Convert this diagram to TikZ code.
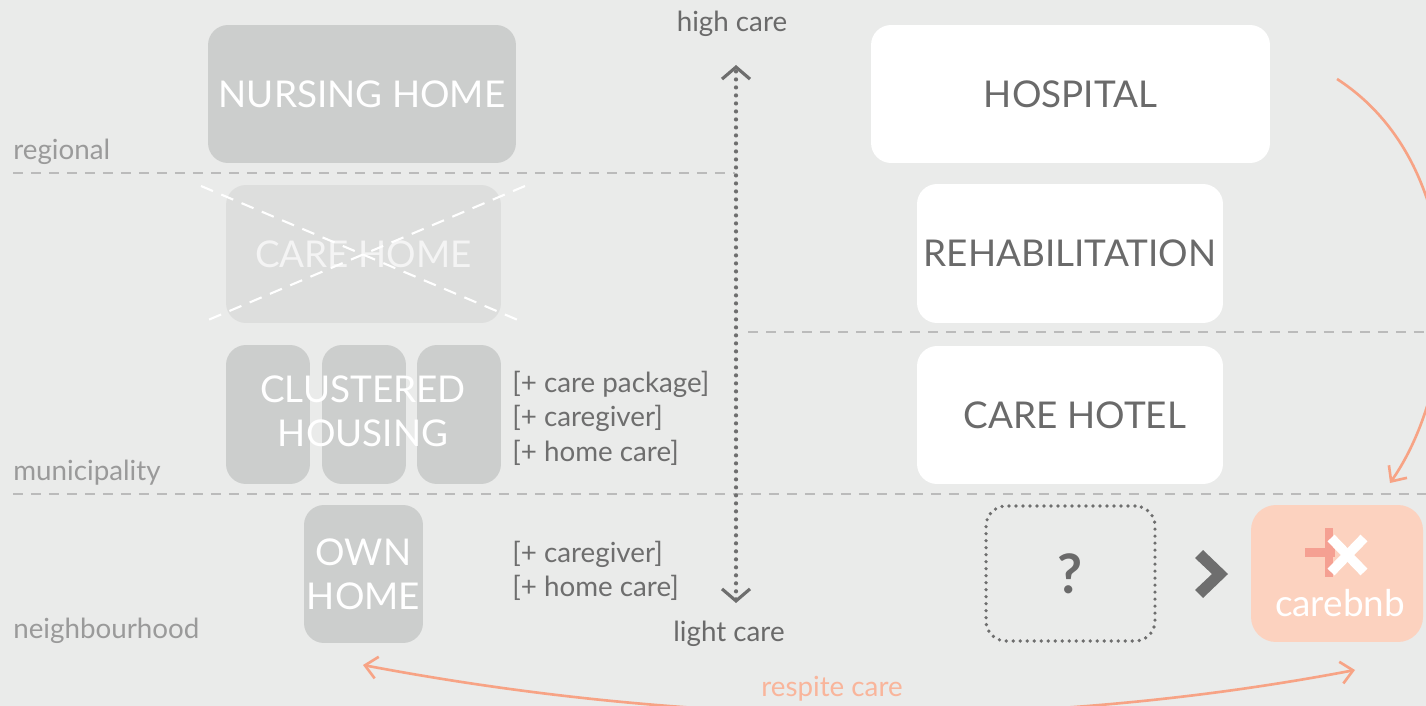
\documentclass[tikz,border=0pt]{standalone}
\usepackage{fontspec}
\setmainfont{Lato}
\usetikzlibrary{arrows.meta}
\definecolor{bg}{HTML}{EAEBEA}
\definecolor{boxgrey}{HTML}{CCCECD}
\definecolor{boxlight}{HTML}{DDDEDD}
\definecolor{crosstext}{HTML}{F4F4F4}
\definecolor{dashgrey}{HTML}{BBBBBB}
\definecolor{lvlgrey}{HTML}{9A9A9A}
\definecolor{notegrey}{HTML}{6E6E6E}
\definecolor{txtdark}{HTML}{6A6A6A}
\definecolor{salmon}{HTML}{F7A385}
\definecolor{salmonlight}{HTML}{F9B59B}
\definecolor{bnbfill}{HTML}{FCD2BF}
\definecolor{pinkplus}{HTML}{F5A092}
\newcommand\bigfont{\fontsize{21}{25}\selectfont}
\newcommand\smallfont{\fontsize{15.8}{19.6}\selectfont}
\tikzset{
  salmontip/.tip={Straight Barb[length=0.24cm,width=0.44cm,line width=1.5pt]},
  chevtip/.tip={Straight Barb[length=0.24cm,width=0.56cm,line width=1.8pt]},
}
\begin{document}
\begin{tikzpicture}[x=0.02cm,y=-0.02cm,
  greybox/.style={fill=boxgrey, rounded corners=0.4cm, inner sep=0pt, text=white, font=\bigfont, align=center},
  whitebox/.style={fill=white, rounded corners=0.4cm, inner sep=0pt, text=txtdark, font=\bigfont},
  lvl/.style={anchor=west, text=lvlgrey, font=\smallfont, inner sep=0pt},
  note/.style={anchor=west, text=notegrey, font=\smallfont, inner sep=0pt, align=left},
  divider/.style={draw=dashgrey, line width=1.1pt, dash pattern=on 0.2cm off 0.16cm},
  salmonline/.style={draw=salmon, line width=1.5pt},
]
\fill[bg] (0,0) rectangle (1426,706);
\useasboundingbox (0,0) rectangle (1426,706);

% level labels and dividers
\node[lvl] (regional) at (13,152) {regional};
\node[lvl] (municipality) at (13,473) {municipality};
\node[lvl] (neighbourhood) at (13,631) {neighbourhood};
\coordinate (d1a) at (13,173); \coordinate (d1b) at (735,173);
\coordinate (d2a) at (748,332); \coordinate (d2b) at (1426,332);
\coordinate (d3a) at (13,494); \coordinate (d3b) at (1426,494);
\draw[divider] (d1a) -- (d1b);
\draw[divider] (d2a) -- (d2b);
\draw[divider] (d3a) -- (d3b);

% left column
\node[greybox, minimum width=6.16cm, minimum height=2.76cm] (nursing) at (362,94) {NURSING HOME};
\node[fill=boxlight, rounded corners=0.4cm, inner sep=0pt, text=crosstext, font=\bigfont, minimum width=5.5cm, minimum height=2.76cm] (carehome) at (363.5,254) {CARE HOME};
\draw[white, line width=1.2pt, dash pattern=on 0.26cm off 0.18cm] (201,186) -- (525,323);
\draw[white, line width=1.2pt, dash pattern=on 0.26cm off 0.18cm] (525,186) -- (201,323);

\node[greybox, minimum width=1.68cm, minimum height=2.78cm] (cl1) at (268,414.5) {};
\node[greybox, minimum width=1.68cm, minimum height=2.78cm] (cl2) at (364,414.5) {};
\node[greybox, minimum width=1.68cm, minimum height=2.78cm] (cl3) at (459,414.5) {};
\node[text=white, font=\bigfont, align=center, inner sep=0pt] (cltext) at (363,411) {CLUSTERED\\HOUSING};
\node[note] (notes1) at (512,418) {{[}+ care package{]}\\{[}+ caregiver{]}\\{[}+ home care{]}};

\node[greybox, minimum width=2.38cm, minimum height=2.76cm] (own) at (363.5,574) {OWN\\HOME};
\node[note] (notes2) at (512,571) {{[}+ caregiver{]}\\{[}+ home care{]}};

% vertical care axis
\node[text=txtdark, font=\smallfont, inner sep=0pt] (high) at (732,24) {high care};
\node[text=txtdark, font=\smallfont, inner sep=0pt] (light) at (729,634) {light care};
\coordinate (vtop) at (736,65);
\coordinate (vbot) at (736,603);
\draw[draw=notegrey, line width=2.4pt, line cap=round, dash pattern=on 0pt off 0.16cm, chevtip-chevtip] (vbot) -- (vtop);

% right column
\node[whitebox, minimum width=7.98cm, minimum height=2.76cm] (hospital) at (1070.5,94) {HOSPITAL};
\node[whitebox, minimum width=6.12cm, minimum height=2.78cm] (rehab) at (1070,253.5) {REHABILITATION};
\node[whitebox, minimum width=6.12cm, minimum height=2.76cm] (hotel) at (1070,415) {\hspace{0.2cm}CARE HOTEL};

\node[draw=notegrey, line width=2.1pt, line cap=round, dash pattern=on 0pt off 0.14cm, rounded corners=0.4cm, inner sep=0pt, minimum width=3.38cm, minimum height=2.7cm, text=txtdark, font=\fontsize{31}{34}\selectfont\bfseries] (question) at (1070.5,573.5) {?};

\fill[notegrey] (1195,558) -- (1203,550) -- (1228,574) -- (1203,598) -- (1195,590) -- (1212,574) -- cycle;

\node[fill=bnbfill, rounded corners=0.5cm, inner sep=0pt, minimum width=3.44cm, minimum height=2.74cm] (bnb) at (1337,573.5) {};
\fill[pinkplus] (1305,548) rectangle (1335,557);
\fill[pinkplus] (1325,528) rectangle (1333,577);
\draw[white, line width=5.5pt] (1331,538) -- (1364,572);
\draw[white, line width=5.5pt] (1364,538) -- (1331,572);
\node[text=white, font=\bigfont, inner sep=0pt] (bnbtext) at (1340,603) {carebnb};

% salmon connectors
\coordinate (arcstart) at (1337,79);
\coordinate (arcend) at (1390,483);
\draw[salmonline, -salmontip] (arcstart) .. controls (1470,165) and (1465,375) .. (arcend);
\coordinate (rl) at (363,665);
\coordinate (rr) at (1355,670);
\draw[salmonline, salmontip-salmontip] (rl) .. controls (690,727) and (1029,732) .. (rr);
\node[text=salmonlight, font=\smallfont, inner sep=0pt] (respite) at (832,689) {respite care};
\end{tikzpicture}
\end{document}
